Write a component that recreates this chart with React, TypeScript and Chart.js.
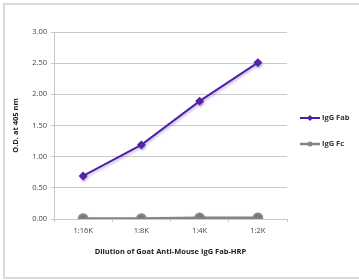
import React, { useEffect, useRef } from "react";
import { Chart, registerables } from "chart.js";

Chart.register(...registerables);

const categories = ["1:16K", "1:8K", "1:4K", "1:2K"];
const fabValues = [0.69, 1.19, 1.89, 2.51];
const fcValues = [0.01, 0.01, 0.02, 0.02];
const yTicks = [0, 0.5, 1, 1.5, 2, 2.5, 3];

const FONT = "'Open Sans', 'Noto Sans', sans-serif";
const PURPLE = "#4f1fa3";
const GRAY = "#858585";
const GRID = "#c9c9c9";

const shadowPlugin = {
  id: "lineShadow",
  beforeDatasetDraw(chart: any, args: any) {
    const ctx = chart.ctx;
    ctx.save();
    if (args.index === 0) {
      ctx.shadowColor = "rgba(120,90,190,0.35)";
      ctx.shadowOffsetY = 2;
      ctx.shadowOffsetX = 1;
      ctx.shadowBlur = 2;
    } else {
      ctx.shadowColor = "rgba(0,0,0,0.2)";
      ctx.shadowOffsetY = 1;
      ctx.shadowBlur = 2;
    }
  },
  afterDatasetDraw(chart: any) {
    chart.ctx.restore();
  },
};

const legendPlugin = {
  id: "customLegend",
  afterDraw(chart: any) {
    const ctx = chart.ctx;
    const area = chart.chartArea;
    const x0 = area.right + 13;
    const ys = [118, 144];
    chart.data.datasets.forEach((ds: any, i: number) => {
      const y = ys[i];
      ctx.save();
      ctx.strokeStyle = ds.borderColor;
      ctx.lineWidth = ds.borderWidth;
      ctx.beginPath();
      ctx.moveTo(x0, y);
      ctx.lineTo(x0 + 20, y);
      ctx.stroke();
      ctx.fillStyle = ds.pointBackgroundColor;
      const cx = x0 + 10;
      if (ds.pointStyle === "rectRot") {
        ctx.beginPath();
        ctx.moveTo(cx, y - 3);
        ctx.lineTo(cx + 3, y);
        ctx.lineTo(cx, y + 3);
        ctx.lineTo(cx - 3, y);
        ctx.closePath();
        ctx.fill();
      } else {
        ctx.beginPath();
        ctx.arc(cx, y, 2.5, 0, Math.PI * 2);
        ctx.fill();
      }
      ctx.fillStyle = "#333";
      ctx.font = `bold 7.5px ${FONT}`;
      ctx.textBaseline = "middle";
      ctx.textAlign = "left";
      ctx.fillText(ds.label, x0 + 22, y);
      ctx.restore();
    });
  },
};

export default function App() {
  const ref = useRef<HTMLCanvasElement | null>(null);
  useEffect(() => {
    document.body.style.margin = "0";
    if (!ref.current) return;
    const chart = new Chart(ref.current, {
      type: "line",
      data: {
        labels: categories,
        datasets: [
          {
            label: "IgG Fab",
            data: fabValues,
            borderColor: PURPLE,
            backgroundColor: PURPLE,
            pointBackgroundColor: PURPLE,
            pointBorderColor: PURPLE,
            borderWidth: 2,
            pointStyle: "rectRot",
            pointRadius: 3,
            tension: 0,
          },
          {
            label: "IgG Fc",
            data: fcValues,
            borderColor: GRAY,
            backgroundColor: GRAY,
            pointBackgroundColor: GRAY,
            pointBorderColor: GRAY,
            borderWidth: 2.5,
            pointStyle: "circle",
            pointRadius: 4,
            tension: 0,
          },
        ],
      },
      options: {
        animation: false,
        responsive: false,
        maintainAspectRatio: false,
        layout: { padding: { left: 11, top: 32, right: 72, bottom: 24 } },
        plugins: {
          legend: { display: false },
          tooltip: { enabled: false },
        },
        scales: {
          x: {
            offset: true,
            grid: {
              offset: true,
              drawOnChartArea: false,
              tickLength: 3,
              color: GRID,
            },
            border: { color: GRID, width: 1 },
            ticks: {
              color: "#444",
              font: { family: FONT, size: 7.5 },
              padding: 4,
            },
            title: {
              display: true,
              text: "Dilution of Goat Anti-Mouse IgG Fab-HRP",
              color: "#222",
              font: { family: FONT, size: 7.5, weight: "bold" },
              padding: { top: 3, bottom: 0 },
            },
            afterFit(scale: any) {
              scale.height = 37;
            },
          },
          y: {
            min: 0,
            max: 3,
            afterBuildTicks(scale: any) {
              scale.ticks = yTicks.map((v) => ({ value: v }));
            },
            grid: { color: GRID, tickLength: 3 },
            border: { color: GRID, width: 1 },
            ticks: {
              color: "#444",
              font: { family: FONT, size: 7.5 },
              padding: 4,
              callback: (v: any) => Number(v).toFixed(2),
            },
            title: {
              display: true,
              text: "O.D. at 405 nm",
              color: "#222",
              font: { family: FONT, size: 7.5, weight: "bold" },
              padding: { top: 0, bottom: 4 },
            },
            afterFit(scale: any) {
              scale.width = 43;
            },
          },
        },
      },
      plugins: [shadowPlugin, legendPlugin],
    });
    return () => chart.destroy();
  }, []);
  return (
    <div style={{ position: "relative", width: 359, height: 280, overflow: "hidden", background: "#fff" }}>
      <div
        style={{
          position: "absolute",
          left: 3,
          top: 3,
          width: 400,
          height: 272,
          border: "2px solid #d9d9d9",
        }}
      />
      <canvas ref={ref} width={359} height={280} style={{ position: "absolute", left: 0, top: 0 }} />
    </div>
  );
}
